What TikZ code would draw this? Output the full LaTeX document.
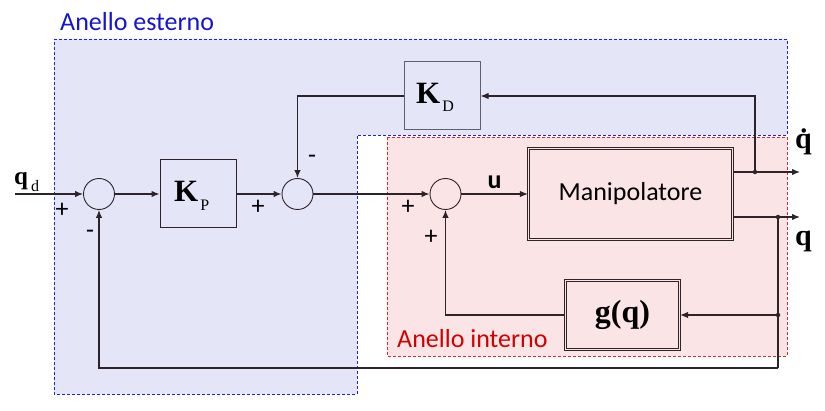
\documentclass[tikz,border=0pt]{standalone}
\usepackage{fontspec}
\setmainfont{Carlito}
\newfontfamily\tms{Liberation Serif}
\usetikzlibrary{arrows.meta}
\definecolor{bluebg}{RGB}{228,230,248}
\definecolor{pinkbg}{RGB}{250,228,230}
\definecolor{bluedash}{RGB}{30,30,240}
\definecolor{reddash}{RGB}{220,40,40}
\definecolor{bluetxt}{RGB}{20,20,210}
\definecolor{redtxt}{RGB}{210,0,0}
\definecolor{wire}{RGB}{45,35,40}
\definecolor{kdgray}{RGB}{95,95,110}
\begin{document}
\begin{tikzpicture}[x=1pt,y=-1pt,
  wirestyle/.style={draw=wire, line width=1.3pt},
  arr/.style={wirestyle, -{Latex[length=8pt,width=6.5pt]}},
  sumnode/.style={circle, draw=wire, line width=0.9pt, minimum size=31pt, inner sep=0pt},
  gainbox/.style={draw, line width=1pt, minimum width=76pt, minimum height=68pt, inner sep=0pt},
  dblbox/.style={draw=wire, double=pinkbg, line width=1.1pt, double distance=1.6pt, inner sep=0pt},
  sign/.style={font=\fontsize{26}{26}\selectfont, inner sep=0pt, anchor=base},
  dotnode/.style={circle, fill=wire, inner sep=0pt, minimum size=4.5pt},
  region/.style={dashed, line width=0.9pt, dash pattern=on 3pt off 2pt},
  lbl/.style={inner sep=0pt, anchor=base west},
]
\useasboundingbox (0,0) rectangle (825,411);
% regions
\fill[bluebg] (54,39) -- (787,39) -- (787,135) -- (357,135) -- (357,394) -- (54,394) -- cycle;
\fill[pinkbg] (387,137) rectangle (787,356);
\draw[bluedash, region] (54,39) -- (787,39) -- (787,135) -- (357,135) -- (357,394) -- (54,394) -- cycle;
\draw[reddash, region] (387,137) rectangle (787,356);
\node[lbl, text=bluetxt, font=\fontsize{26}{26}\selectfont] (esterno) at (60,31) {Anello esterno};
\node[lbl, text=redtxt, font=\fontsize{26}{26}\selectfont] (interno) at (397,348) {Anello interno};

% blocks
\node[sumnode] (s1) at (99,194) {};
\node[gainbox, draw=wire] (kp) at (198,194) {};
\node[sumnode] (s2) at (297.5,194) {};
\node[sumnode] (s3) at (445.5,194) {};
\node[gainbox, draw=kdgray] (kd) at (442,96) {};
\node[dblbox, minimum width=204pt, minimum height=91pt, font=\fontsize{26}{26}\selectfont] (man) at (630.5,194) {Manipolatore};
\node[dblbox, minimum width=114pt, minimum height=69pt, font=\tms\bfseries\fontsize{32}{32}\selectfont] (g) at (622.5,315) {g(q)};

\node[lbl] (kplab) at (174,202) {\tms\bfseries\fontsize{31}{31}\selectfont K\kern2pt\raisebox{-9pt}{\mdseries\fontsize{16}{16}\selectfont P}};
\node[lbl] (kdlab) at (416,104) {\tms\bfseries\fontsize{31}{31}\selectfont K\kern2pt\raisebox{-8pt}{\mdseries\fontsize{16}{16}\selectfont D}};

% coordinates
\coordinate (qdin) at (15,194);
\coordinate (j1) at (755,172);
\coordinate (o1) at (800,172);
\coordinate (j2) at (778,217);
\coordinate (o2) at (800,217);
\coordinate (j3) at (778,315);
\coordinate (j4) at (778,368);

% labels
\node[lbl] (qdlab) at (14,185) {\tms\bfseries\fontsize{25}{25}\selectfont q\kern3pt\raisebox{-7pt}{\mdseries\fontsize{16}{16}\selectfont d}};
\node[lbl] (qdotlab) at (795,149) {\tms\bfseries\fontsize{30}{30}\selectfont \.{q}};
\node[lbl] (qlab) at (795,246) {\tms\bfseries\fontsize{30}{30}\selectfont q};

% connectors
\draw[arr] (qdin) -- (s1);
\draw[arr] (s1) -- (kp);
\draw[arr] (kp) -- (s2);
\draw[arr] (s2) -- (s3);
\draw[arr] (s3) -- node[above=5pt, inner sep=0pt, font=\bfseries\fontsize{26}{26}\selectfont] (ulab) {u} (man);
\draw[wirestyle] (man.east |- j1) -- (j1);
\draw[arr] (j1) -- (o1);
\draw[arr] (j1) |- (kd.east);
\draw[arr] (kd.west) -| (s2.north);
\draw[wirestyle] (man.east |- j2) -- (j2);
\draw[arr] (j2) -- (o2);
\draw[wirestyle] (j2) -- (j4);
\draw[arr] (j3) -- (g.east);
\draw[arr] (g.west) -| (s3.south);
\draw[arr] (j4) -| (s1.south);
\node[dotnode] (d1) at (j1) {};
\node[dotnode] (d2) at (j2) {};
\node[dotnode] (d3) at (j3) {};

% signs
\node[sign] (p1) at (62,218) {+};
\node[sign] (m1) at (90,239) {-};
\node[sign] (p2) at (258,215) {+};
\node[sign] (m2) at (312,164) {-};
\node[sign] (p3) at (408,215) {+};
\node[sign] (p4) at (431,245) {+};
\end{tikzpicture}
\end{document}
